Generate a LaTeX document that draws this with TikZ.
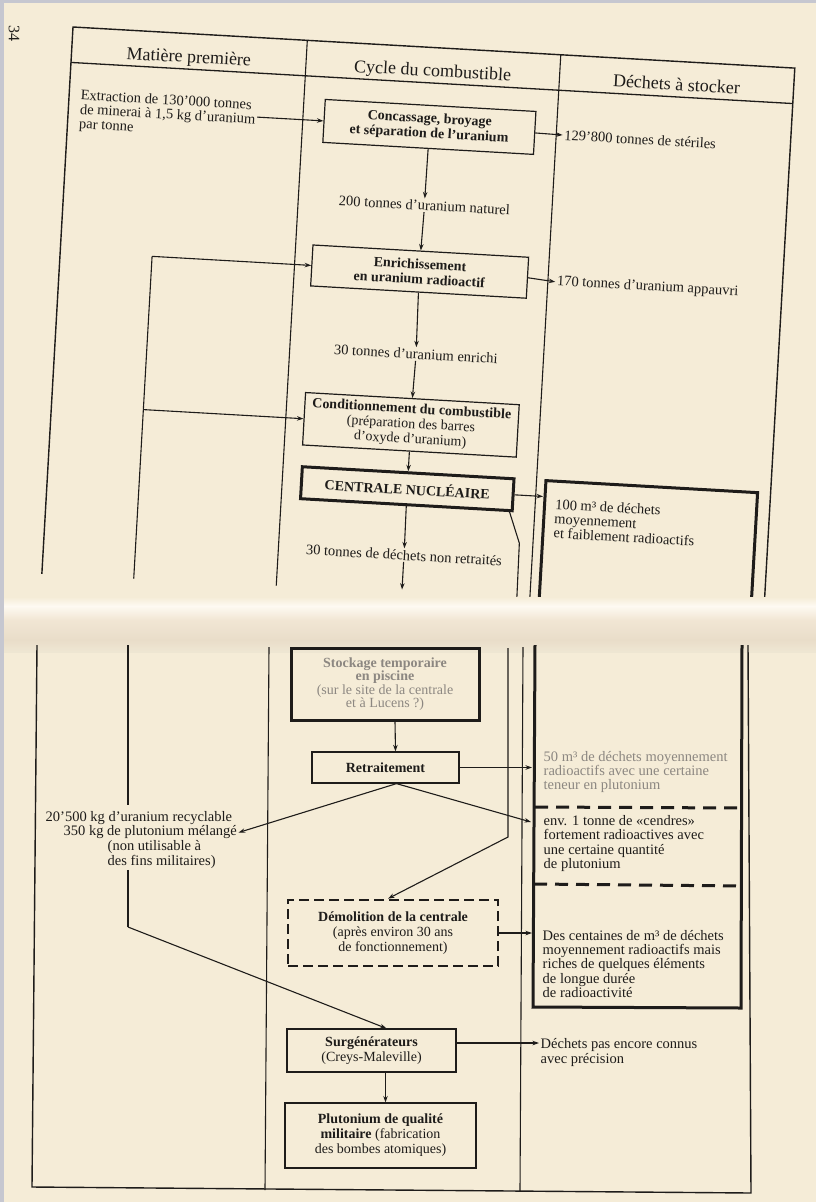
\documentclass[tikz,border=0pt]{standalone}
\usepackage{fontspec}
\setmainfont{Liberation Serif}
\usetikzlibrary{arrows.meta}
\definecolor{paper}{HTML}{F5ECD7}
\definecolor{margin}{HTML}{C6C7D0}
\definecolor{ink}{HTML}{1E1C1A}
\definecolor{blur}{HTML}{8C8781}
\definecolor{foldlight}{HTML}{FEFAF2}
\definecolor{foldgray}{HTML}{E9DDC9}
\definecolor{foldmid}{HTML}{F1E6D4}
\definecolor{foldlow}{HTML}{EFE7D3}
\newcommand\ftlab{\fontsize{14.5}{14.4}\selectfont}
\newcommand\ftbox{\fontsize{14}{15}\selectfont}
\newcommand\fthead{\fontsize{18}{20}\selectfont}
\newcommand\ftstock{\fontsize{14}{13.5}\selectfont}
\begin{document}
\begin{tikzpicture}[x=1pt,y=-1pt,
  lab/.style={inner sep=1.5pt, font=\ftlab, text=ink},
  hdr/.style={inner sep=0pt, font=\fthead, text=ink, anchor=base},
  bx/.style={draw=ink, line width=1.2pt, inner sep=0pt, align=center, font=\ftbox, text=ink},
  thickbx/.style={bx, line width=3pt},
  dashbx/.style={bx, line width=2.8pt, dash pattern=on 10pt off 5pt},
  ln/.style={draw=ink, line width=1.1pt},
  tline/.style={draw=ink, line width=3pt},
  tdash/.style={draw=ink, line width=3pt, dash pattern=on 13pt off 8pt},
  arr/.style={ln, -{Stealth[length=6.5pt,width=4.5pt]}},
]
\useasboundingbox (0,0) rectangle (816,1202);
\fill[paper] (0,0) rectangle (816,1202);

\node[rotate=-90, font=\fontsize{16}{16}\selectfont, text=ink, inner sep=0pt] (pnum) at (14,33) {34};

% ---------------- upper half (rotated page) ----------------
\begin{scope}[rotate around={-3.26:(73,27)}, transform shape]
  \draw[ln, line width=1.4pt] (73,605) -- (73,27) -- (796,27) -- (796,605);
  \draw[ln, line width=1.3pt] (73,62.5) -- (796,62.5);
  \draw[ln] (307.7,27) -- (307.7,605);
  \draw[ln] (561.6,27) -- (561.6,605);
  \node[hdr] (h1) at (190.4,56) {Matière première};
  \node[hdr] (h2) at (434.6,56) {Cycle du combustible};
  \node[hdr] (h3) at (678.8,56) {Déchets à stocker};

  \node[lab, anchor=west, align=left] (ext) at (83,110) {Extraction de 130’000 tonnes\\de minerai à 1,5 kg d’uranium\\par tonne};
  \node[bx, minimum width=211pt, minimum height=43pt, font=\ftbox\bfseries] (conc) at (434.5,106.5) {Concassage, broyage\\et séparation de l’uranium};
  \node[lab, anchor=west] (ster) at (568,107) {129’800 tonnes de stériles};
  \node[lab] (nat) at (434,185) {200 tonnes d’uranium naturel};
  \node[bx, minimum width=216pt, minimum height=41pt, font=\ftbox\bfseries] (enr) at (433,251.5) {Enrichissement\\en uranium radioactif};
  \node[lab, anchor=west] (app) at (569,254) {170 tonnes d’uranium appauvri};
  \node[lab] (enri) at (434,334) {30 tonnes d’uranium enrichi};
  \node[bx, minimum width=214pt, minimum height=52.5pt] (cond) at (433,405) {\textbf{Conditionnement du combustible}\\(préparation des barres\\d’oxyde d’uranium)};
  \node[thickbx, minimum width=212pt, minimum height=32pt, font=\ftbox\bfseries] (cent) at (433,469) {CENTRALE NUCLÉAIRE};
  \node[lab] (dnr) at (433.5,535.5) {30 tonnes de déchets non retraités};

  \coordinate (b100tl) at (571,453);
  \coordinate (b100tr) at (783,453);
  \coordinate (b100bl) at (571,605);
  \coordinate (b100br) at (783,605);
  \draw[tline] (b100bl) -- (b100tl) -- (b100tr) -- (b100br);
  \node[lab, anchor=west, align=left] (t100) at (580,490.5) {100 m³ de déchets\\moyennement\\et faiblement radioactifs};

  \draw[arr] (ext.east |- conc.west) -- (conc.west);
  \draw[arr] (conc.east) -- (ster.west);
  \draw[arr] (conc.south) -- (nat.north);
  \draw[arr] (nat.south) -- (enr.north);
  \draw[arr] (enr.east) -- (app.west);
  \draw[arr] (enr.south) -- (enri.north);
  \draw[arr] (enri.south) -- (cond.north);
  \draw[arr] (cond.south) -- (cent.north);
  \coordinate (b100a) at (569,469);
  \draw[arr] (cent.east) -- (b100a);
  \draw[arr] (cent.south) -- (dnr.north);
  \coordinate (foldA) at (433.5,570);
  \draw[arr] (dnr.south) -- (foldA);

  \coordinate (fbE) at (165,251.5);
  \coordinate (fbC) at (165,405);
  \coordinate (fbF) at (165,605);
  \draw[ln] (fbF) -- (fbE);
  \draw[arr] (fbE) -- (enr.west);
  \draw[arr] (fbC) -- (cond.west);

  \coordinate (cl1) at (548,517);
  \coordinate (clF) at (549,605);
  \draw[ln] ([xshift=-4pt]cent.south east) -- (cl1) -- (clF);
\end{scope}

% ---------------- fold ----------------
\fill[paper] (0,572) -- (816,612) -- (816,652) -- (0,652) -- cycle;
\foreach \i in {0,...,8} {
  \pgfmathtruncatemacro\p{100-\i*100/9}
  \fill[paper!\p!foldlight] (0,597+\i) rectangle (816,598.6+\i);
}
\foreach \i in {0,...,13} {
  \pgfmathtruncatemacro\p{100-\i*100/14}
  \fill[foldlight!\p!foldmid] (0,606+\i) rectangle (816,607.6+\i);
}
\foreach \i in {0,...,19} {
  \pgfmathtruncatemacro\p{100-\i*100/20}
  \fill[foldmid!\p!foldgray] (0,620+\i) rectangle (816,621.6+\i);
}
\foreach \i in {0,...,11} {
  \pgfmathtruncatemacro\p{100-\i*100/12}
  \fill[foldgray!\p!foldlow] (0,640+\i) rectangle (816,641.6+\i);
}

% ---------------- lower half ----------------
\draw[ln, line width=1.4pt] (37,645) -- (32,1187) -- (751,1193) -- (748,645);
\draw[ln] (269,647) -- (265,1190);
\draw[ln] (523,647) -- (520,1191);

\coordinate (bl1) at (535,645);
\coordinate (bl2) at (533,1007);
\coordinate (br2) at (741,1008);
\coordinate (br1) at (742,645);
\draw[tline] (bl1) -- (bl2) -- (br2) -- (br1);
\draw[tdash] (535,807) -- (742,808);
\draw[tdash] (534,884) -- (742,886);

\node[thickbx, minimum width=188pt, minimum height=72pt, text=blur, font=\ftstock] (stock) at (385,684) {\textbf{Stockage temporaire}\\\textbf{en piscine}\\(sur le site de la centrale\\et à Lucens ?)};
\node[bx, minimum width=147pt, minimum height=31pt, font=\ftbox\bfseries] (retr) at (385.5,767.5) {Retraitement};
\node[dashbx, minimum width=210pt, minimum height=66pt] (dem) at (393,933) {\textbf{Démolition de la centrale}\\(après environ 30 ans\\de fonctionnement)};
\node[bx, minimum width=169pt, minimum height=43pt] (surg) at (371.5,1050.5) {\textbf{Surgénérateurs}\\(Creys-Maleville)};
\node[bx, minimum width=191pt, minimum height=65pt] (plut) at (380.5,1135.5) {\textbf{Plutonium de qualité}\\\textbf{militaire} (fabrication\\des bombes atomiques)};

\node[lab, anchor=west] (rec1) at (44,818) {20’500 kg d’uranium recyclable};
\node[lab, anchor=west] (rec2) at (62,832.5) {350 kg de plutonium mélangé};
\node[lab, anchor=west] (rec3) at (106,847) {(non utilisable à};
\node[lab, anchor=west] (rec4) at (106,861.5) {des fins militaires)};

\node[lab, anchor=west, align=left, text=blur] (t50) at (542,772) {50 m³ de déchets moyennement\\radioactifs avec une certaine\\teneur en plutonium};
\node[lab, anchor=west, align=left] (tenv) at (542,843.5) {env. 1 tonne de «cendres»\\fortement radioactives avec\\une certaine quantité\\de plutonium};
\node[lab, anchor=west, align=left] (tdes) at (541,964) {Des centaines de m³ de déchets\\moyennement radioactifs mais\\riches de quelques éléments\\de longue durée\\de radioactivité};
\node[lab, anchor=west, align=left] (tdpe) at (539,1052.5) {Déchets pas encore connus\\avec précision};

\coordinate (fbL) at (128,645);
\coordinate (fbB) at (128,927);
\coordinate (rec1t) at ([yshift=5pt]rec1.north);
\draw[ln] (fbL) -- (fbL |- rec1t);
\draw[ln] (fbB |- rec4.south) -- (fbB);
\draw[arr] (fbB) -- ([xshift=15pt]surg.north);

\coordinate (clL) at (508,648);
\coordinate (clB) at (508,837);
\draw[arr] (clL) -- (clB) -- ([xshift=-5pt]dem.north);

\draw[arr] ([xshift=10pt]stock.south) -- ([xshift=10pt]retr.north);
\coordinate (bxL) at (532,700);
\draw[arr] (retr.east) -- (retr.east -| bxL);
\coordinate (apex) at ([xshift=11pt]retr.south);
\draw[arr] (apex) -- (rec2.east);
\coordinate (envA) at (531,822);
\draw[arr] (apex) -- (envA);
\draw[arr] (dem.east) -- (dem.east -| bxL);
\draw[arr] ([yshift=7.5pt]surg.east) -- ([yshift=7.5pt]surg.east -| tdpe.west);
\draw[arr] ([xshift=14pt]surg.south) -- ([xshift=14pt]surg.south |- plut.north);

\fill[margin] (0,0) rectangle (4,1202);
\fill[margin] (0,0) rectangle (816,3);
\end{tikzpicture}
\end{document}
